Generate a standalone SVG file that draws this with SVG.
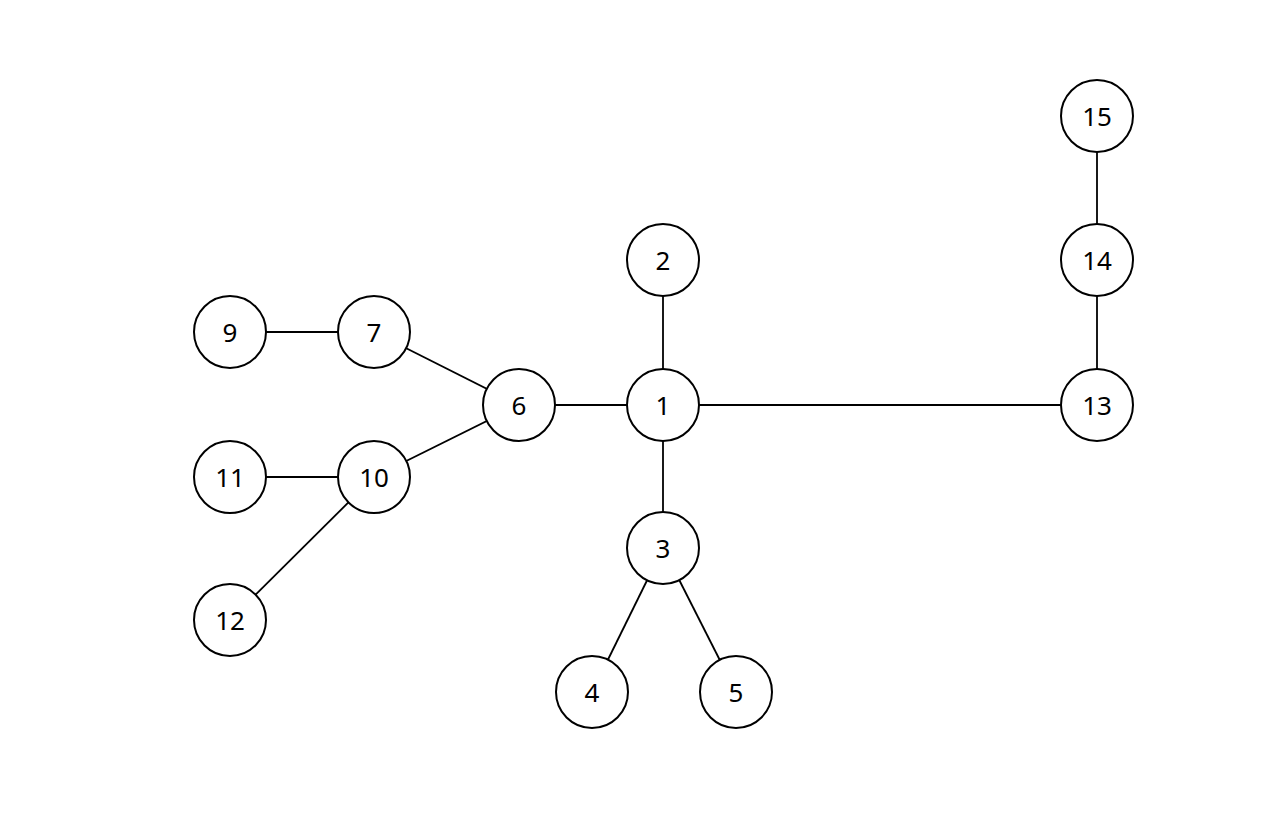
<svg xmlns="http://www.w3.org/2000/svg" width="1280" height="816" viewBox="0 0 1280 816">
<style>
.n circle{fill:#fff;stroke:#000;stroke-width:2}
.n text{font-family:"Noto Sans","Open Sans",sans-serif;font-size:26px;fill:#000;text-anchor:middle;dominant-baseline:central}
#edges line{stroke:#000;stroke-width:1.8}
</style>
<rect width="1280" height="816" fill="#fff"/>
<g id="edges">
<line x1="663" y1="405" x2="663" y2="260"/>
<line x1="663" y1="405" x2="663" y2="548"/>
<line x1="663" y1="548" x2="592" y2="692"/>
<line x1="663" y1="548" x2="736" y2="692"/>
<line x1="663" y1="405" x2="519" y2="405"/>
<line x1="519" y1="405" x2="374" y2="332"/>
<line x1="374" y1="332" x2="230" y2="332"/>
<line x1="519" y1="405" x2="374" y2="477"/>
<line x1="374" y1="477" x2="230" y2="477"/>
<line x1="374" y1="477" x2="230" y2="620"/>
<line x1="663" y1="405" x2="1097" y2="405"/>
<line x1="1097" y1="405" x2="1097" y2="260"/>
<line x1="1097" y1="260" x2="1097" y2="116"/>
</g>
<g id="node1" class="n"><circle cx="663" cy="405" r="36"/><text x="663" y="405">1</text></g>
<g id="node2" class="n"><circle cx="663" cy="260" r="36"/><text x="663" y="260">2</text></g>
<g id="node3" class="n"><circle cx="663" cy="548" r="36"/><text x="663" y="548">3</text></g>
<g id="node4" class="n"><circle cx="592" cy="692" r="36"/><text x="592" y="692">4</text></g>
<g id="node5" class="n"><circle cx="736" cy="692" r="36"/><text x="736" y="692">5</text></g>
<g id="node6" class="n"><circle cx="519" cy="405" r="36"/><text x="519" y="405">6</text></g>
<g id="node7" class="n"><circle cx="374" cy="332" r="36"/><text x="374" y="332">7</text></g>
<g id="node9" class="n"><circle cx="230" cy="332" r="36"/><text x="230" y="332">9</text></g>
<g id="node10" class="n"><circle cx="374" cy="477" r="36"/><text x="374" y="477">10</text></g>
<g id="node11" class="n"><circle cx="230" cy="477" r="36"/><text x="230" y="477">11</text></g>
<g id="node12" class="n"><circle cx="230" cy="620" r="36"/><text x="230" y="620">12</text></g>
<g id="node13" class="n"><circle cx="1097" cy="405" r="36"/><text x="1097" y="405">13</text></g>
<g id="node14" class="n"><circle cx="1097" cy="260" r="36"/><text x="1097" y="260">14</text></g>
<g id="node15" class="n"><circle cx="1097" cy="116" r="36"/><text x="1097" y="116">15</text></g>
</svg>
